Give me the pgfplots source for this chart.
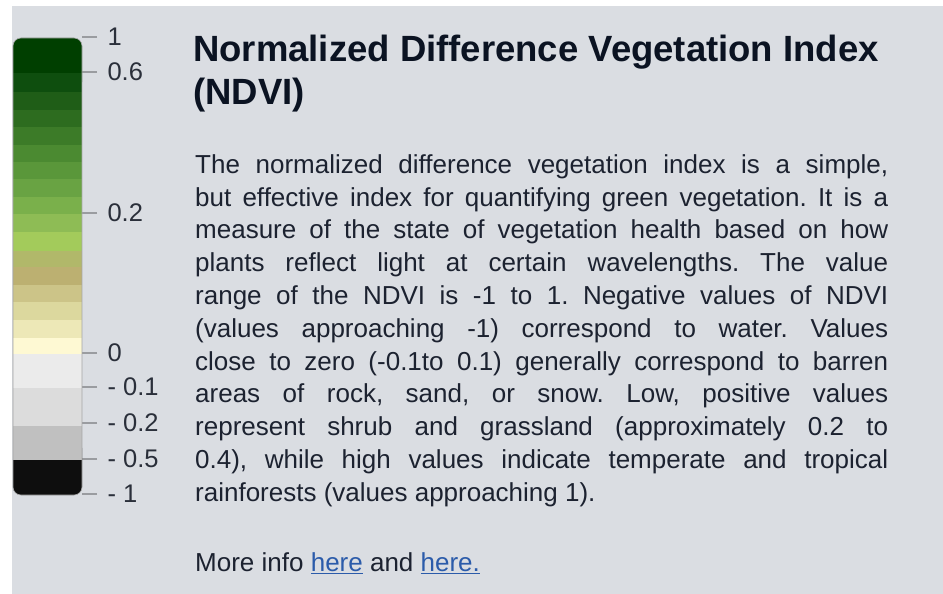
\documentclass[border=0pt]{standalone}
\usepackage{pgfplots}
\pgfplotsset{compat=1.18}
\usepackage{fontspec}
\setmainfont[Ligatures=NoCommon]{Liberation Sans}
\frenchspacing
\definecolor{panel}{HTML}{DADDE2}
\definecolor{titlec}{HTML}{0B1322}
\definecolor{bodyc}{HTML}{1C2230}
\definecolor{labelc}{HTML}{2A2F3A}
\definecolor{tickgray}{HTML}{9A9CA0}
\definecolor{linkc}{HTML}{2B5BAA}
\definecolor{c01}{HTML}{003F00}
\definecolor{c02}{HTML}{0E4E0E}
\definecolor{c03}{HTML}{1F5D17}
\definecolor{c04}{HTML}{2D6C1F}
\definecolor{c05}{HTML}{3C7B28}
\definecolor{c06}{HTML}{4B8A31}
\definecolor{c07}{HTML}{5A973A}
\definecolor{c08}{HTML}{69A343}
\definecolor{c09}{HTML}{7AB04B}
\definecolor{c10}{HTML}{8EBC55}
\definecolor{c11}{HTML}{A3CB5B}
\definecolor{c12}{HTML}{B1B86A}
\definecolor{c13}{HTML}{BCB071}
\definecolor{c14}{HTML}{CCC488}
\definecolor{c15}{HTML}{DCD89E}
\definecolor{c16}{HTML}{EDE8B7}
\definecolor{c17}{HTML}{FEF9D3}
\definecolor{c18}{HTML}{EBEBEB}
\definecolor{c19}{HTML}{DCDCDC}
\definecolor{c20}{HTML}{C0C0C0}
\definecolor{c21}{HTML}{0E0E0E}
\newcommand{\band}[3]{\addplot[fill=#1, draw=none] coordinates {(0,#2) (1,#2) (1,#3) (0,#3)} -- cycle;}
\newcommand{\bodyline}[2]{\node[anchor=base west, inner sep=0pt, text=bodyc, font=\fontsize{26}{26}\selectfont] at (195,{594-173.3-32.8*#1}) {\makebox[693pt][s]{#2}};}
\begin{document}
\begin{tikzpicture}[x=1pt,y=1pt]
\path[use as bounding box] (0,0) rectangle (943,594);
\fill[white] (0,0) rectangle (943,594);
\fill[panel] (12,0) rectangle (943,588);
\begin{axis}[at={(13pt,99pt)}, anchor=south west, scale only axis,
  width=69pt, height=458pt, xmin=0, xmax=1, ymin=37, ymax=495, y dir=reverse,
  axis line style={draw=none}, xtick=\empty,
  ytick={37,72,213,353,387,423,459,494},
  yticklabels={1,0.6,0.2,0,- 0.1,- 0.2,- 0.5,- 1},
  ytick pos=right, yticklabel pos=right, tick align=outside,
  major tick length=15pt, tick style={draw=tickgray, line width=1.2pt},
  /pgf/number format/assume math mode=true,
  yticklabel style={font=\fontsize{25.5}{25.5}\selectfont, text=labelc, anchor=west, xshift=7pt},
  clip=false]
\addplot[fill=c01, draw=none, rounded corners=8pt] coordinates {(0,90) (0,38) (1,38) (1,90)} -- cycle;
\band{c02}{73}{92}
\band{c03}{92}{110}
\band{c04}{110}{127}
\band{c05}{127}{145}
\band{c06}{145}{162}
\band{c07}{162}{179}
\band{c08}{179}{197}
\band{c09}{197}{214}
\band{c10}{214}{232}
\band{c11}{232}{251}
\band{c12}{251}{267}
\band{c13}{267}{285}
\band{c14}{285}{302}
\band{c15}{302}{320}
\band{c16}{320}{338}
\band{c17}{338}{354}
\band{c18}{354}{388}
\band{c19}{388}{426}
\addplot[fill=c21, draw=none, rounded corners=8pt] coordinates {(0,440) (0,495) (1,495) (1,440)} -- cycle;
\band{c20}{426}{460}
\addplot[draw=gray!70, line width=0.6pt, rounded corners=8pt] coordinates {(0,38) (1,38) (1,495) (0,495)} -- cycle;
\end{axis}
\node[anchor=base west, inner sep=0pt, text=titlec, font=\fontsize{36.5}{36.5}\selectfont\bfseries] at (193,{594-61.7}) {Normalized Difference Vegetation Index};
\node[anchor=base west, inner sep=0pt, text=titlec, font=\fontsize{36.5}{36.5}\selectfont\bfseries] at (193,{594-105}) {(NDVI)};
\bodyline{0}{The normalized difference vegetation index is a simple,}
\bodyline{1}{but effective index for quantifying green vegetation. It is a}
\bodyline{2}{measure of the state of vegetation health based on how}
\bodyline{3}{plants reflect light at certain wavelengths. The value}
\bodyline{4}{range of the NDVI is -1 to 1. Negative values of NDVI}
\bodyline{5}{(values approaching -1) correspond to water. Values}
\bodyline{6}{close to zero (-0.1to 0.1) generally correspond to barren}
\bodyline{7}{areas of rock, sand, or snow. Low, positive values}
\bodyline{8}{represent shrub and grassland (approximately 0.2 to}
\bodyline{9}{0.4), while high values indicate temperate and tropical}
\node[anchor=base west, inner sep=0pt, text=bodyc, font=\fontsize{26}{26}\selectfont] at (195,{594-501.7}) {rainforests (values approaching 1).};
\node[anchor=base west, inner sep=0pt, text=bodyc, font=\fontsize{26}{26}\selectfont] at (195,{594-571.7}) {More info \textcolor{linkc}{\underline{here}} and \textcolor{linkc}{\underline{here.}}};
\end{tikzpicture}
\end{document}
